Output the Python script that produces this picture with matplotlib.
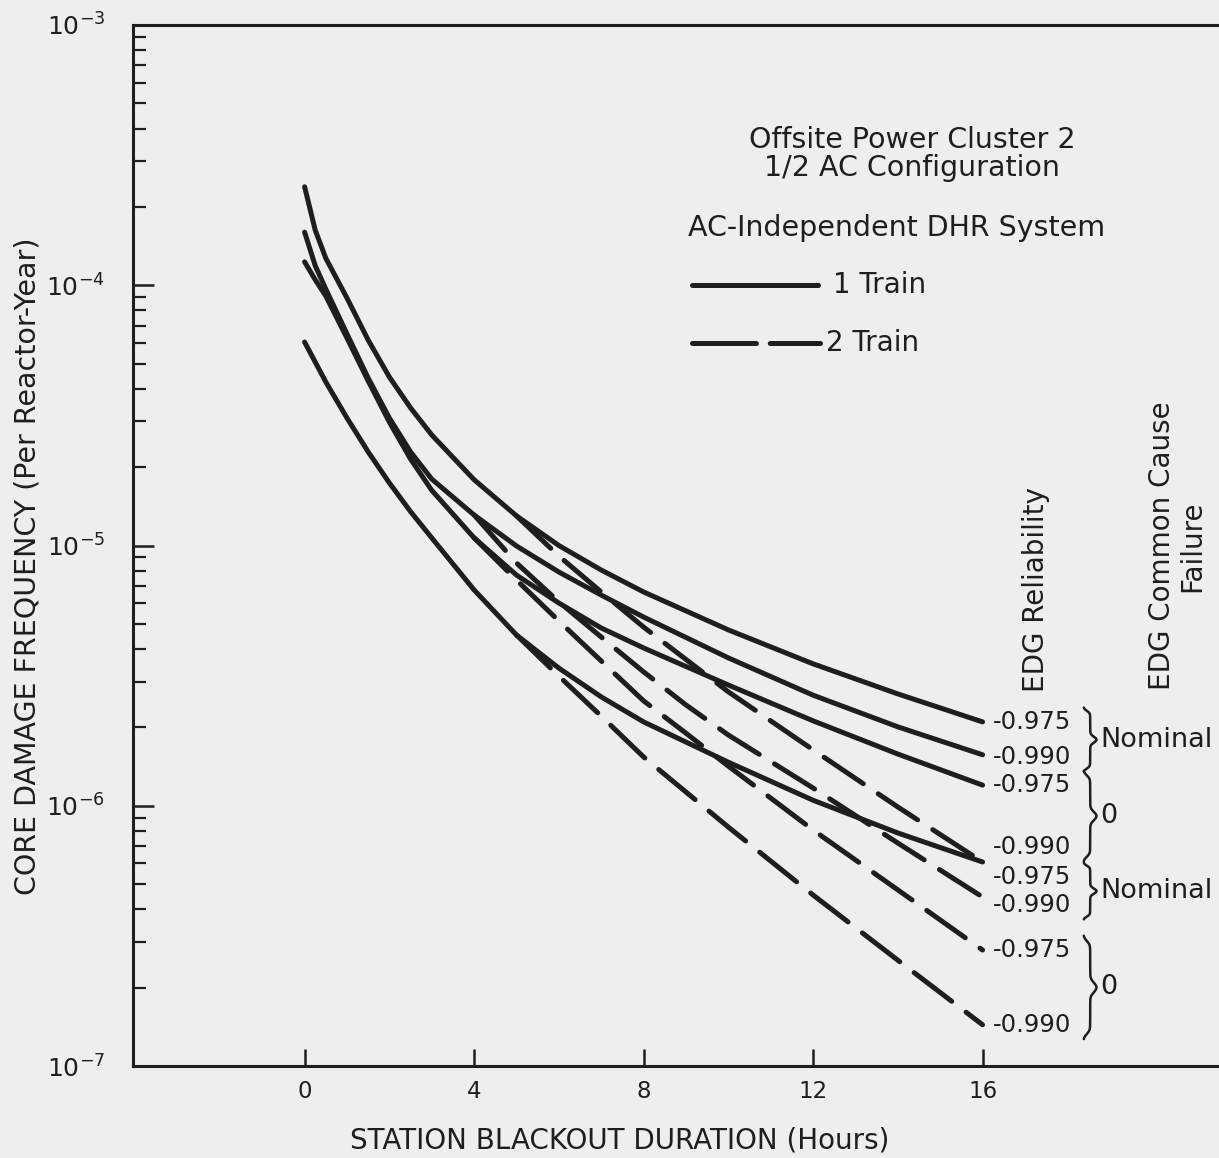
import matplotlib.pyplot as plt
import numpy as np
from matplotlib.lines import Line2D

plt.rcParams['font.family'] = ['DejaVu Sans']
plt.rcParams['mathtext.fontset'] = 'dejavusans'
plt.rcParams['lines.scale_dashes'] = False

W, H = 1219, 1158
PAPER = '#eeeeeb'
INK = '#1e1e1e'

# 1-train AC-independent DHR (solid)
hours = [0, 0.25, 0.5, 1, 1.5, 2, 2.5, 3, 4, 5, 6, 7, 8, 10, 12, 14, 16]
one_nom_975 = [2.39e-4, 1.63e-4, 1.27e-4, 8.93e-5, 6.16e-5, 4.44e-5, 3.38e-5, 2.66e-5, 1.79e-5,
               1.30e-5, 1.00e-5, 8.05e-6, 6.63e-6, 4.74e-6, 3.51e-6, 2.69e-6, 2.10e-6]
one_nom_990 = [1.60e-4, 1.19e-4, 9.67e-5, 6.50e-5, 4.40e-5, 3.09e-5, 2.29e-5, 1.80e-5, 1.31e-5,
               9.96e-6, 7.91e-6, 6.45e-6, 5.31e-6, 3.70e-6, 2.66e-6, 2.01e-6, 1.57e-6]
one_zero_975 = [1.23e-4, 1.05e-4, 9.09e-5, 6.27e-5, 4.29e-5, 2.98e-5, 2.15e-5, 1.63e-5, 1.07e-5,
                7.70e-6, 6.01e-6, 4.82e-6, 4.04e-6, 2.91e-6, 2.12e-6, 1.58e-6, 1.20e-6]
one_zero_990 = [6.05e-5, 5.07e-5, 4.25e-5, 3.09e-5, 2.29e-5, 1.74e-5, 1.35e-5, 1.07e-5, 6.75e-6,
                4.53e-6, 3.38e-6, 2.62e-6, 2.10e-6, 1.47e-6, 1.05e-6, 7.86e-7, 6.08e-7]

# 2-train (dashed), starting where they split off the 1-train curves
hours_2a = [5, 6, 7, 8, 10, 12, 14, 16]
hours_2b = [4, 5, 6, 7, 8, 9, 10, 12, 14, 16]
two_nom_975 = [1.30e-5, 9.11e-6, 6.63e-6, 4.86e-6, 2.74e-6, 1.64e-6, 9.89e-7, 6.08e-7]
two_nom_990 = [1.31e-5, 8.57e-6, 6.07e-6, 4.45e-6, 3.27e-6, 2.44e-6, 1.87e-6,
               1.17e-6, 7.19e-7, 4.46e-7]
two_zero_975 = [1.07e-5, 7.37e-6, 5.13e-6, 3.60e-6, 2.53e-6, 1.90e-6, 1.42e-6,
                8.07e-7, 4.75e-7, 2.79e-7]
two_zero_990 = [4.53e-6, 3.15e-6, 2.21e-6, 1.54e-6, 8.28e-7, 4.54e-7, 2.55e-7, 1.44e-7]

reliability = ['-0.975', '-0.990', '-0.975', '-0.990',
               '-0.975', '-0.990', '-0.975', '-0.990']
ccf_groups = ['Nominal', '0', 'Nominal', '0']

x_ticks = [0, 4, 8, 12, 16]
y_ticks = [1e-7, 1e-6, 1e-5, 1e-4, 1e-3]


def fx(px):
    return px / W


def fy(py):
    return 1 - py / H


def draw_brace(ax, x0, y_top, y_bot, width, k=55):
    u = np.linspace(0, 1, 301)
    half = np.where(u < 0.5, u, 1 - u)
    xs = x0 + width * (0.5 / (1 + np.exp(-k * (half - 0.05)))
                       + 0.5 / (1 + np.exp(-k * (half - 0.45))))
    lt, lb = np.log10(y_top), np.log10(y_bot)
    ys = 10 ** (lt + (lb - lt) * u)
    ax.plot(xs, ys, color=INK, lw=1.8, clip_on=False, solid_capstyle='round')


fig = plt.figure(figsize=(W / 100, H / 100), dpi=100, facecolor=PAPER)
ax = fig.add_axes([fx(133), fy(1066), fx(1219 - 133), (1066 - 25) / H])
ax.set_facecolor(PAPER)
ax.set_yscale('log')
ax.set_xlim(-4.05, 21.58)
ax.set_ylim(1e-7, 1e-3)

solid_kw = dict(color=INK, lw=3.6, solid_capstyle='round', solid_joinstyle='round')
dash_kw = dict(color=INK, lw=3.6, dashes=(34, 13), dash_capstyle='round',
               dash_joinstyle='round')

curves = [
    (hours, one_nom_975, solid_kw),
    (hours, one_nom_990, solid_kw),
    (hours, one_zero_975, solid_kw),
    (hours, one_zero_990, solid_kw),
    (hours_2a, two_nom_975, dash_kw),
    (hours_2b, two_nom_990, dash_kw),
    (hours_2b, two_zero_975, dash_kw),
    (hours_2a, two_zero_990, dash_kw),
]
for xs, ys, kw in curves:
    ax.plot(xs, ys, **kw)

# EDG reliability labels at the curve ends; the crowded ones get nudged (decades)
nudge = [0.0, -0.01, 0.0, 0.058, -0.058, -0.031, 0.0, 0.0]
label_y = []
for (xs, ys, kw), txt, dn in zip(curves, reliability, nudge):
    yl = ys[-1] * 10 ** dn
    label_y.append(yl)
    ax.text(16.25, yl, txt, fontsize=17.5, color=INK, va='center', ha='left')

# braces grouping the labels by common cause failure
pad = 10 ** 0.055
for i, grp in enumerate(ccf_groups):
    y_top = label_y[2 * i] * pad
    y_bot = label_y[2 * i + 1] / pad
    draw_brace(ax, 18.38, y_top, y_bot, 0.32)
    ymid = np.sqrt(y_top * y_bot)
    ax.text(18.78, ymid, grp, fontsize=19.5, color=INK, va='center', ha='left')

# axes styling
for side in ['left', 'bottom', 'top']:
    ax.spines[side].set_linewidth(2.2)
    ax.spines[side].set_color(INK)
ax.spines['right'].set_visible(False)

ax.set_xticks(x_ticks)
ax.set_xticklabels([str(t) for t in x_ticks])
ax.set_yticks(y_ticks)
ax.set_yticklabels([r'10$^{%d}$' % int(np.log10(t)) for t in y_ticks])
ax.yaxis.set_minor_locator(plt.matplotlib.ticker.LogLocator(base=10, subs=np.arange(2, 10)))
ax.yaxis.set_minor_formatter(plt.NullFormatter())
ax.tick_params(axis='y', which='major', direction='in', length=15, width=1.8,
               labelsize=18, pad=20, colors=INK)
ax.tick_params(axis='y', which='minor', direction='in', length=9, width=1.6, colors=INK)
ax.tick_params(axis='x', which='major', direction='in', length=12, width=1.8,
               labelsize=16.5, pad=10, colors=INK)
ax.tick_params(top=False, right=False, which='both')

fig.text(fx(28), fy(566), 'CORE DAMAGE FREQUENCY (Per Reactor-Year)', rotation=90,
         ha='center', va='center', fontsize=20.5, color=INK)
fig.text(fx(620), fy(1140), 'STATION BLACKOUT DURATION (Hours)',
         ha='center', va='center', fontsize=20, color=INK)

# key in the upper right
fig.text(fx(912), fy(154), 'Offsite Power Cluster 2\n1/2 AC Configuration',
         ha='center', va='center', fontsize=20.5, color=INK, linespacing=1.0)
fig.text(fx(688), fy(228), 'AC-Independent DHR System',
         ha='left', va='center', fontsize=20.5, color=INK)
fig.add_artist(Line2D([fx(692), fx(818)], [fy(285), fy(285)], transform=fig.transFigure,
                      **solid_kw))
fig.text(fx(833), fy(285), '1 Train', ha='left', va='center', fontsize=20, color=INK)
fig.add_artist(Line2D([fx(692), fx(820)], [fy(343), fy(343)], transform=fig.transFigure,
                      color=INK, lw=3.6, dashes=(46, 10), dash_capstyle='round'))
fig.text(fx(826), fy(343), '2 Train', ha='left', va='center', fontsize=20, color=INK)

fig.text(fx(1036), fy(590), 'EDG Reliability', rotation=90,
         ha='center', va='center', fontsize=20, color=INK)
fig.text(fx(1177), fy(546), 'EDG Common Cause\nFailure', rotation=90,
         ha='center', va='center', fontsize=20, color=INK, multialignment='center',
         linespacing=1.1)

fig.savefig('out.png', dpi=100, facecolor=PAPER)
